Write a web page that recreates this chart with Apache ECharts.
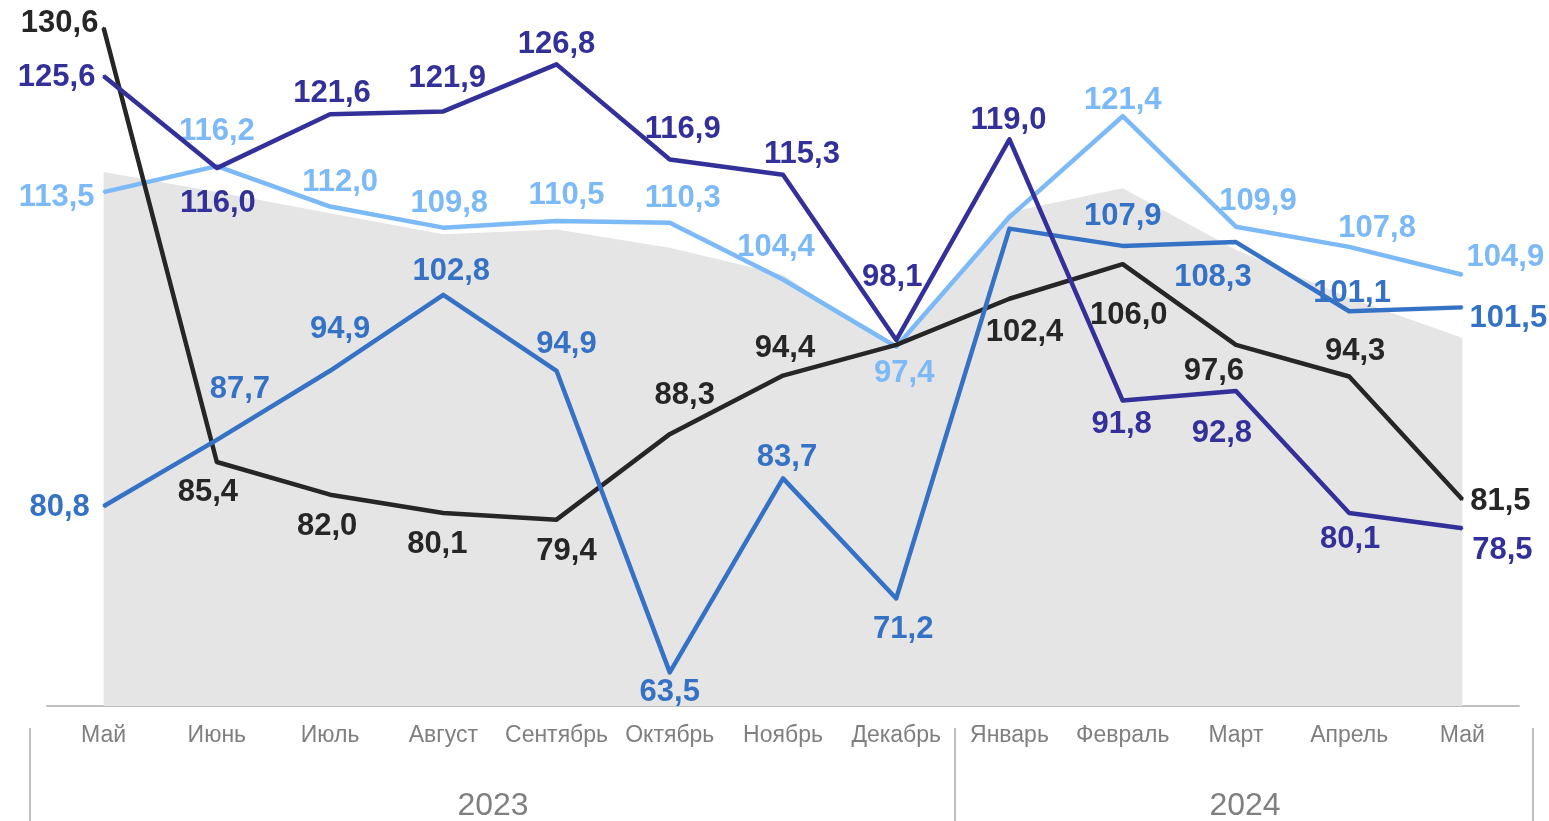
<!DOCTYPE html>
<html>
<head>
<meta charset="utf-8">
<script src="https://cdn.jsdelivr.net/npm/echarts@6/dist/echarts.min.js"></script>
<style>
html,body{margin:0;padding:0;background:#fff;}
#chart{width:1549px;height:821px;}
</style>
</head>
<body>
<div id="chart"></div>
<script>
const categories = ['Май','Июнь','Июль','Август','Сентябрь','Октябрь','Ноябрь','Декабрь','Январь','Февраль','Март','Апрель','Май'];
const years = ['2023','2024'];

const areaValues      = [115.6, 113.5, 111.3, 109.1, 109.6, 107.7, 104.9, 97.0, 111.4, 113.9, 107.5, 102.5, 98.3];
const blackValues     = [130.6, 85.4, 82.0, 80.1, 79.4, 88.3, 94.4, 97.6, 102.4, 106.0, 97.6, 94.3, 81.5];
const purpleValues    = [125.6, 116.0, 121.6, 121.9, 126.8, 116.9, 115.3, 98.1, 119.0, 91.8, 92.8, 80.1, 78.5];
const lightBlueValues = [113.5, 116.2, 112.0, 109.8, 110.5, 110.3, 104.4, 97.4, 110.9, 121.4, 109.9, 107.8, 104.9];
const blueValues      = [80.8, 87.7, 94.9, 102.8, 94.9, 63.5, 83.7, 71.2, 109.7, 107.9, 108.3, 101.1, 101.5];

// label centre offsets relative to the point (null = no label)
const blackLabelPos = [[-44,-6],[-9,28],[-3,30],[-6,30],[10,30],[15,-41],[2,-29],null,[15,32],[6,49],[-22,25],[6,-27],[38,0]];
const purpleLabelPos = [[-47,0],[1,33],[2,-23],[4,-35],[0,-22],[13,-32],[19,-22],[-4,-65],[-1,-21],[-1,22],[-14,41],[1,25],[40,20]];
const lightBlueLabelPos = [[-47,3],[0,-37],[10,-26],[6,-26],[10,-27],[13,-26],[-7,-34],[8,25],null,[0,-18],[22,-27],[28,-20],[43,-19]];
const blueLabelPos = [[-44,-1],[23,-52],[10,-43],[8,-25],[10,-28],[0,18],[4,-23],[7,29],null,[0,-31],[-23,33],[3,-20],[46,9]];

const fmt = v => v.toFixed(1).replace('.', ',');

function buildData(values, positions) {
  return values.map((v, i) => ({ value: v, label: { show: !!positions[i] } }));
}

function lineSeries(name, values, positions, color, z) {
  return {
    name: name,
    type: 'line',
    data: buildData(values, positions),
    symbol: 'circle',
    symbolSize: 2,
    showSymbol: true,
    itemStyle: { color: color },
    lineStyle: { color: color, width: 4.5, join: 'round' },
    z: z,
    label: {
      position: 'inside',
      color: color,
      fontFamily: 'Liberation Sans, Arial, sans-serif',
      fontWeight: 'bold',
      fontSize: 31,
      align: 'center',
      verticalAlign: 'middle',
      formatter: p => fmt(p.value)
    },
    labelLayout: function (params) {
      const p = positions[params.dataIndex] || [0, 0];
      return { dx: p[0], dy: p[1] + 2, hideOverlap: false };
    },
    emphasis: { disabled: true },
    animation: false
  };
}

const chart = echarts.init(document.getElementById('chart'), null, { renderer: 'canvas' });

const option = {
  animation: false,
  backgroundColor: '#ffffff',
  grid: { left: 47, right: 30, top: 0, bottom: 115, containLabel: false },
  xAxis: {
    type: 'category',
    data: categories,
    boundaryGap: true,
    axisLine: { show: true, lineStyle: { color: '#bfbfbf', width: 2 } },
    axisTick: { show: false },
    axisLabel: {
      color: '#7f7f7f',
      fontFamily: 'Liberation Sans, Arial, sans-serif',
      fontSize: 23,
      margin: 18,
      interval: 0
    },
    splitLine: { show: false }
  },
  yAxis: {
    type: 'value',
    min: 60,
    max: 133.5,
    show: false,
    splitLine: { show: false }
  },
  series: [
    {
      name: 'area',
      type: 'line',
      data: areaValues,
      symbol: 'none',
      lineStyle: { width: 0 },
      areaStyle: { color: '#e5e5e5', opacity: 1 },
      z: 1,
      silent: true,
      emphasis: { disabled: true }
    },
    lineSeries('lightblue', lightBlueValues, lightBlueLabelPos, '#7cb9f7', 2),
    lineSeries('black', blackValues, blackLabelPos, '#262626', 3),
    lineSeries('blue', blueValues, blueLabelPos, '#3572c5', 4),
    lineSeries('purple', purpleValues, purpleLabelPos, '#33309a', 5)
  ],
  graphic: [
    { type: 'line', shape: { x1: 30, y1: 728, x2: 30, y2: 821 }, style: { stroke: '#bfbfbf', lineWidth: 2 } },
    { type: 'line', shape: { x1: 955, y1: 728, x2: 955, y2: 821 }, style: { stroke: '#bfbfbf', lineWidth: 2 } },
    { type: 'line', shape: { x1: 1533, y1: 728, x2: 1533, y2: 821 }, style: { stroke: '#bfbfbf', lineWidth: 2 } },
    { type: 'text', x: 493, y: 806, style: { text: years[0], fill: '#7f7f7f', font: '32px "Liberation Sans", Arial, sans-serif', textAlign: 'center', textVerticalAlign: 'middle' } },
    { type: 'text', x: 1245, y: 806, style: { text: years[1], fill: '#7f7f7f', font: '32px "Liberation Sans", Arial, sans-serif', textAlign: 'center', textVerticalAlign: 'middle' } }
  ]
};

chart.setOption(option);
</script>
</body>
</html>
